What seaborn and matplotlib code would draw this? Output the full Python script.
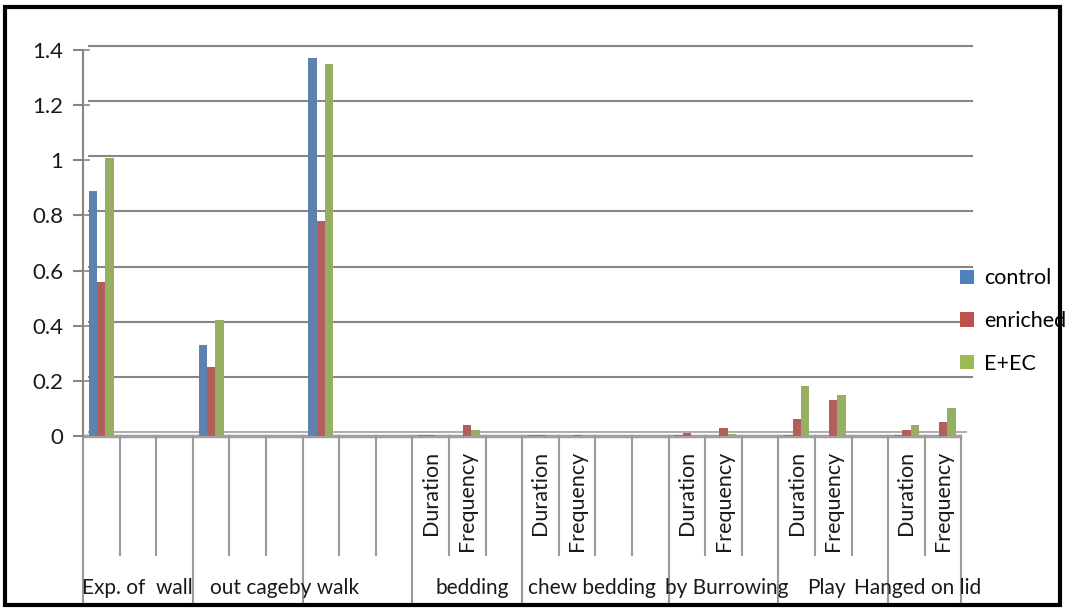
import matplotlib
matplotlib.use("Agg")
import matplotlib.pyplot as plt
import matplotlib.transforms as mtransforms
from matplotlib.patches import Rectangle, Patch
import numpy as np
import pandas as pd
import seaborn as sns

# 24 category slots, grouped by behaviour (some slots are empty)
slots = [f"s{i}" for i in range(24)]
sub_labels = ["", "", "", "", "", "", "", "", "",
              "Duration", "Frequency", "",
              "Duration", "Frequency", "", "",
              "Duration", "Frequency", "",
              "Duration", "Frequency", "",
              "Duration", "Frequency"]
groups = ["Exp. of  wall", "out cage", "by walk", "bedding", "chew bedding",
          "by Burrowing", "Play", "Hanged on lid"]
group_sizes = [3, 3, 3, 3, 4, 3, 3, 2]

bar_slots = ["s0", "s3", "s6", "s9", "s10", "s12", "s13", "s16", "s17",
             "s19", "s20", "s22", "s23"]
control = [0.89, 0.33, 1.37, 0.004, 0.0, 0.004, 0.0, 0.004, 0.0,
           0.004, 0.0, 0.004, 0.0]
enriched = [0.56, 0.25, 0.78, 0.004, 0.04, 0.004, 0.004, 0.01, 0.03,
            0.06, 0.13, 0.02, 0.05]
e_ec = [1.01, 0.42, 1.35, 0.004, 0.02, 0.004, 0.004, 0.004, 0.006,
        0.18, 0.15, 0.04, 0.10]
series = ["control", "enriched", "E+EC"]
colors = ["#4F81BD", "#C0504D", "#9BBB59"]

df = pd.DataFrame({"slot": bar_slots, "control": control,
                   "enriched": enriched, "E+EC": e_ec})
long = df.melt(id_vars="slot", var_name="group", value_name="value")

plt.rcParams["font.family"] = ["Lato", "DejaVu Sans"]
W, H = 1065, 609
fig = plt.figure(figsize=(W / 100, H / 100), dpi=100)
left, right, top, bottom = 83, 972, 50, 436
ax = fig.add_axes([left / W, 1 - bottom / H, (right - left) / W, (bottom - top) / H])

sns.barplot(data=long, x="slot", y="value", hue="group", order=slots,
            hue_order=series, palette=colors, width=0.68, ax=ax,
            legend=False, zorder=3, edgecolor="none")

slot_w = 36.6
ax.set_xlim(-0.5, -0.5 + (right - left) / slot_w)
ax.set_ylim(0, 1.4)
ax.set_yticks(np.arange(0, 1.41, 0.2))
ax.set_yticklabels(["0", "0.2", "0.4", "0.6", "0.8", "1", "1.2", "1.4"])
ax.tick_params(axis="y", length=7, width=1.5, color="#868686", pad=7,
               labelsize=16, labelcolor="#1a1a1a")
ax.set_xticks([])
ax.set_xlabel("")
ax.set_ylabel("")
for s in ["top", "right", "bottom"]:
    ax.spines[s].set_visible(False)
ax.spines["left"].set_color("#868686")
ax.spines["left"].set_linewidth(1.5)

# back-wall gridlines, shifted a little up/right for the 3-D look
dx = 6 / (right - left)
up = mtransforms.ScaledTranslation(0, 4 / 100, fig.dpi_scale_trans)
grid_t = mtransforms.blended_transform_factory(ax.transAxes, ax.transData)
for yv in np.arange(0.2, 1.41, 0.2):
    ax.plot([dx, 1], [yv, yv], color="#868686", lw=1.5, zorder=1,
            transform=grid_t + up, clip_on=False)
    ax.plot([0, dx], [yv, yv], color="#868686", lw=1.2, zorder=1,
            transform=grid_t, clip_on=False)
floor_end = (960 - left) / (right - left)
ax.plot([0, floor_end], [0, 0], color="#a0a0a0", lw=2.5, zorder=2,
        transform=grid_t, clip_on=False)
ax.plot([dx, floor_end + dx], [0, 0], color="#b0b0b0", lw=1.5, zorder=1,
        transform=grid_t + up, clip_on=False)

# category axis lines and labels below the plot
trans = mtransforms.blended_transform_factory(ax.transData, ax.transAxes)
plot_h = bottom - top
short_y = (bottom - 555) / plot_h
long_y = (bottom - 605) / plot_h
bounds = np.cumsum([0] + group_sizes)
for i in range(25):
    x = i - 0.5
    y_end = long_y if i in bounds else short_y
    ax.plot([x, x], [0, y_end], color="#9a9a9a", lw=1.5, transform=trans,
            clip_on=False)
for i, lab in enumerate(sub_labels):
    if lab:
        ax.text(i, (bottom - 451) / plot_h, lab, rotation=90, ha="center",
                va="top", fontsize=15.5, color="#1a1a1a", transform=trans)
label_pos = [0.98, 4.04, 6.08, 10.13, 13.4, 17.1, 19.82, 22.3]
for g, xpos in zip(groups, label_pos):
    ax.text(xpos, (bottom - 588) / plot_h, g, ha="center", va="center",
            fontsize=15, color="#1a1a1a", transform=trans)

handles = [Patch(facecolor=c, edgecolor="none") for c in colors]
fig.legend(handles, series, loc="center left",
           bbox_to_anchor=(960 / W, 1 - 321 / H), frameon=False,
           fontsize=15.5, handlelength=0.65, handleheight=0.65,
           handletextpad=0.45, labelspacing=1.05, borderaxespad=0,
           borderpad=0)

fig.patches.append(Rectangle((5 / W, 1 - 605 / H), 1055 / W, 598 / H,
                             transform=fig.transFigure, fill=False,
                             edgecolor="black", lw=3))
fig.savefig("out.png", dpi=100)
